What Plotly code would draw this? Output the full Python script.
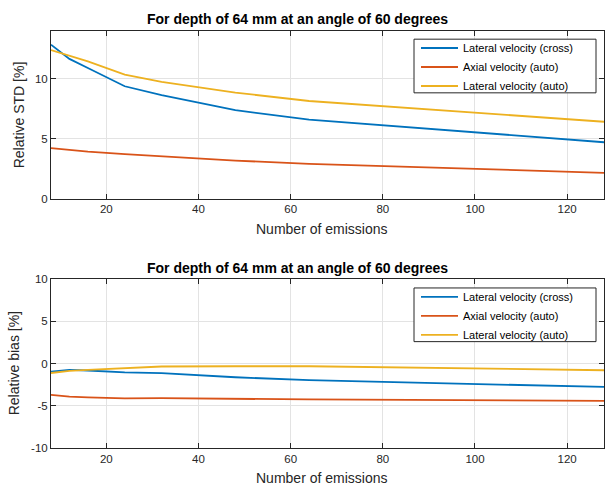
import plotly.graph_objects as go

emissions = [8, 12, 16, 24, 32, 48, 64, 128]

std_lat_cross = [12.85, 11.66, 10.90, 9.38, 8.65, 7.38, 6.60, 4.71]
std_axial_auto = [4.22, 4.05, 3.93, 3.72, 3.52, 3.18, 2.90, 2.16]
std_lat_auto = [12.40, 11.90, 11.45, 10.35, 9.75, 8.85, 8.15, 6.42]

bias_lat_cross = [-0.95, -0.72, -0.80, -1.03, -1.12, -1.60, -1.95, -2.75]
bias_axial_auto = [-3.68, -3.88, -3.97, -4.10, -4.08, -4.15, -4.22, -4.40]
bias_lat_auto = [-1.10, -0.85, -0.72, -0.55, -0.33, -0.30, -0.30, -0.77]

names = ["Lateral velocity (cross)", "Axial velocity (auto)", "Lateral velocity (auto)"]
colors = ["#0072BD", "#D95319", "#EDB120"]

title_text = "For depth of 64 mm at an angle of 60 degrees"
xlabel = "Number of emissions"
ylabel_top = "Relative STD [%]"
ylabel_bot = "Relative bias [%]"

x_ticks = [20, 40, 60, 80, 100, 120]
y_ticks_top = [0, 5, 10]
y_ticks_bot = [-10, -5, 0, 5, 10]

W, H = 605, 493
ML, MR = 51, 1
PW = W - ML - MR


def px(xp):
    return (xp - ML) / PW


def py(yp):
    return (H - yp) / H


fig = go.Figure()
top_series = [std_lat_cross, std_axial_auto, std_lat_auto]
bot_series = [bias_lat_cross, bias_axial_auto, bias_lat_auto]
for i in range(3):
    fig.add_trace(go.Scatter(x=emissions, y=top_series[i], mode="lines", name=names[i],
                             line=dict(color=colors[i], width=1.8), xaxis="x", yaxis="y",
                             legend="legend"))
for i in range(3):
    fig.add_trace(go.Scatter(x=emissions, y=bot_series[i], mode="lines", name=names[i],
                             line=dict(color=colors[i], width=1.8), xaxis="x2", yaxis="y2",
                             legend="legend2"))

axcol = "#262626"
gridcol = "#e3e3e3"
tickfont = dict(family="Liberation Sans", size=11.5, color=axcol)

common_x = dict(range=[8, 128], tickvals=x_ticks, ticktext=[str(v) for v in x_ticks],
                showgrid=True, gridcolor=gridcol, gridwidth=1, zeroline=False,
                showline=True, linecolor=axcol, linewidth=1, mirror="ticks",
                ticks="inside", ticklen=5, tickcolor=axcol, tickwidth=1, tickfont=tickfont)
common_y = dict(showgrid=True, gridcolor=gridcol, gridwidth=1, zeroline=False,
                showline=True, linecolor=axcol, linewidth=1, mirror="ticks",
                ticks="inside", ticklen=5, tickcolor=axcol, tickwidth=1, tickfont=tickfont)

top_dom = [py(197.5), py(25.5)]
bot_dom = [py(453.3), py(280)]

legfont = dict(family="Liberation Sans", size=11, color="black")

fig.update_layout(
    width=W, height=H,
    margin=dict(l=ML, r=MR, t=0, b=0),
    paper_bgcolor="white", plot_bgcolor="white",
    font=dict(family="Liberation Sans", color=axcol),
    xaxis=dict(common_x, domain=[0, 1], anchor="y"),
    yaxis=dict(common_y, domain=top_dom, anchor="x", range=[0, 14],
               tickvals=y_ticks_top, ticktext=[str(v) for v in y_ticks_top]),
    xaxis2=dict(common_x, domain=[0, 1], anchor="y2"),
    yaxis2=dict(common_y, domain=bot_dom, anchor="x2", range=[-10, 10],
                tickvals=y_ticks_bot, ticktext=[str(v) for v in y_ticks_bot]),
    legend=dict(x=px(416), y=py(28.2), xanchor="left", yanchor="top",
                bgcolor="rgba(0,0,0,0)", borderwidth=0, font=legfont,
                itemwidth=37, tracegroupgap=0),
    legend2=dict(x=px(416), y=py(283.2), xanchor="left", yanchor="top",
                 bgcolor="rgba(0,0,0,0)", borderwidth=0, font=legfont,
                 itemwidth=37, tracegroupgap=0),
    shapes=[
        dict(type="rect", xref="paper", yref="paper", x0=px(414), x1=px(596), y0=py(89), y1=py(34),
             fillcolor="white", line=dict(color=axcol, width=1), layer="above"),
        dict(type="rect", xref="paper", yref="paper", x0=px(414), x1=px(596), y0=py(344), y1=py(289),
             fillcolor="white", line=dict(color=axcol, width=1), layer="above"),
    ],
    showlegend=True,
)

ann = []
for yc in (13.3, 269):
    ann.append(dict(text="<b>" + title_text + "</b>", x=px(297), y=py(yc), xref="paper", yref="paper",
                    xanchor="center", yanchor="middle", showarrow=False,
                    font=dict(family="Liberation Sans", size=14, color="black")))
for yc in (229, 484):
    ann.append(dict(text=xlabel, x=px(321.5), y=py(yc), xref="paper", yref="paper",
                    xanchor="center", yanchor="middle", showarrow=False,
                    font=dict(family="Liberation Sans", size=14, color=axcol)))
ann.append(dict(text=ylabel_top, x=px(18.5), y=py(111.5), xref="paper", yref="paper",
                xanchor="center", yanchor="middle", showarrow=False, textangle=-90,
                font=dict(family="Liberation Sans", size=14, color=axcol)))
ann.append(dict(text=ylabel_bot, x=px(13.5), y=py(366.7), xref="paper", yref="paper",
                xanchor="center", yanchor="middle", showarrow=False, textangle=-90,
                font=dict(family="Liberation Sans", size=14, color=axcol)))
fig.update_layout(annotations=ann)

fig.write_html("out.html")
